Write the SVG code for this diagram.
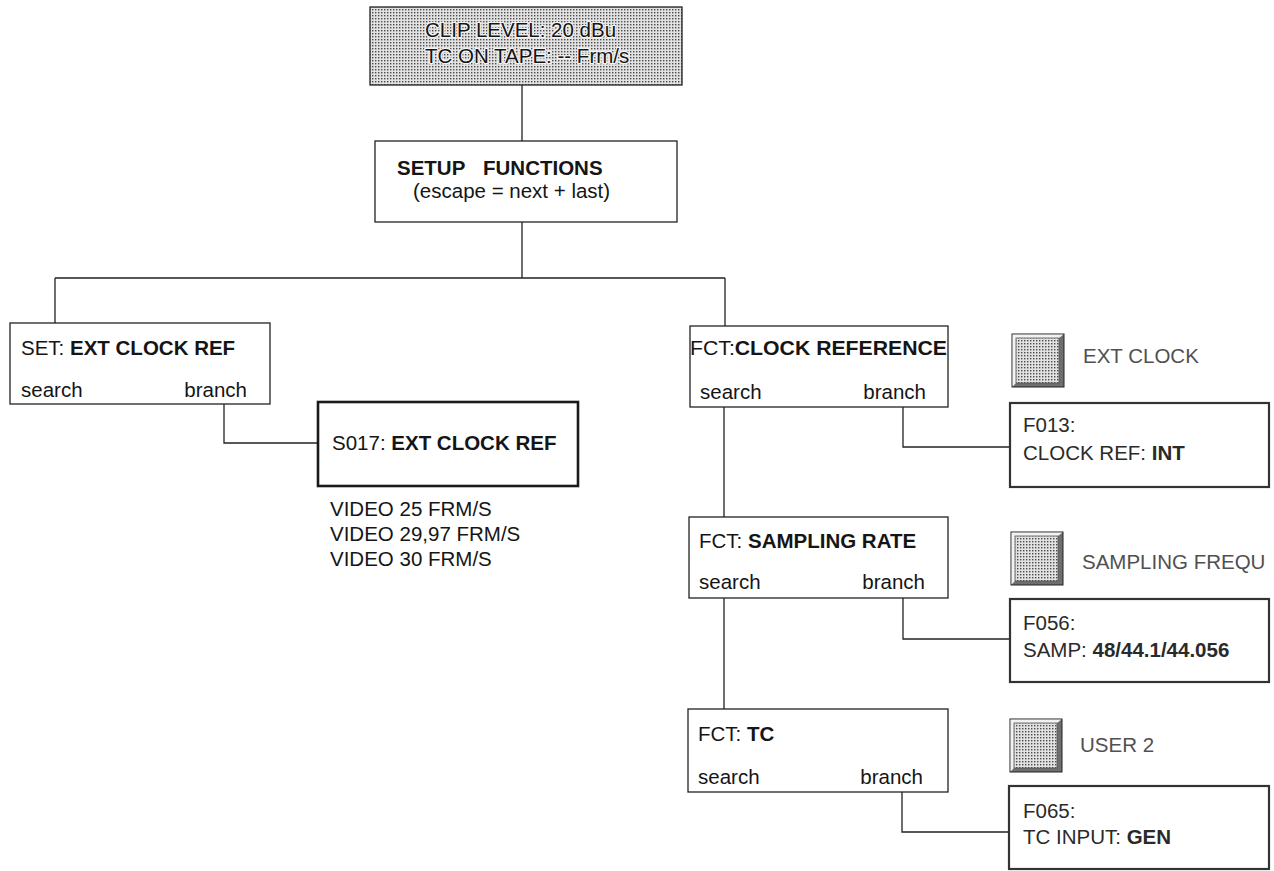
<svg xmlns="http://www.w3.org/2000/svg" width="1274" height="871" viewBox="0 0 1274 871">
<style>
text{font-family:"Liberation Sans",Arial,Helvetica,sans-serif;font-size:20.5px;fill:#151515}
.b{font-weight:bold}
.g{fill:#505050}
.f{fill:#2a2a2a}
.box{fill:#fff;stroke:#222;stroke-width:1.3}
.fbox{fill:#fff;stroke:#333;stroke-width:2.2}
.sbox{fill:#fff;stroke:#1a1a1a;stroke-width:2.6}
.con{fill:none;stroke:#222;stroke-width:1.3}
.halo{stroke:#f4f4f4;stroke-width:2.5;paint-order:stroke;stroke-linejoin:round}
</style>
<defs>
<pattern id="dots" width="3" height="3" patternUnits="userSpaceOnUse">
<rect width="3" height="3" fill="#e2e2e2"/>
<rect width="1.4" height="1.4" fill="#4a4a4a"/>
</pattern>
<g id="btn">
<rect x="0" y="0" width="52" height="53" fill="#6e6e6e" stroke="#222" stroke-width="1"/>
<polygon points="0.5,0.5 51.5,0.5 47,4 4,4 4,49 0.5,52.5" fill="#f2f2f2"/>
<rect x="4" y="4" width="43" height="45" fill="url(#dots)" stroke="#555" stroke-width="0.8"/>
</g>
</defs>
<rect width="1274" height="871" fill="#fff"/>

<g id="connectors">
<path class="con" d="M522,85 V141"/>
<path class="con" d="M522,222 V278 M55,278 H725 M55,278 V323 M725,278 V326"/>
<path class="con" d="M224,404 V443 H318"/>
<path class="con" d="M724,407 V517 M724,598 V709"/>
<path class="con" d="M903,407 V447 H1010"/>
<path class="con" d="M903,598 V639 H1010"/>
<path class="con" d="M902,792 V832 H1010"/>
</g>

<g id="status">
<rect x="370" y="7" width="312" height="78" fill="url(#dots)" stroke="#222" stroke-width="1.3"/>
<text x="425" y="37" class="halo">CLIP LEVEL: 20 dBu</text>
<text x="425" y="63" class="halo">TC ON TAPE: -- Frm/s</text>
</g>

<g id="setup">
<rect class="box" x="375" y="141" width="302" height="81"/>
<text x="397" y="175" class="b">SETUP</text>
<text x="483" y="175" class="b">FUNCTIONS</text>
<text x="413" y="198">(escape = next + last)</text>
</g>

<g id="set-ext">
<rect class="box" x="10" y="323" width="260" height="81"/>
<text x="21" y="355">SET: <tspan class="b">EXT CLOCK REF</tspan></text>
<text x="21" y="397">search</text>
<text x="247" y="397" text-anchor="end">branch</text>
</g>

<g id="s017">
<rect class="sbox" x="318" y="402" width="260" height="84"/>
<text x="332" y="450">S017: <tspan class="b">EXT CLOCK REF</tspan></text>
</g>

<g id="video-options">
<text x="330" y="516">VIDEO 25 FRM/S</text>
<text x="330" y="541">VIDEO 29,97 FRM/S</text>
<text x="330" y="566">VIDEO 30 FRM/S</text>
</g>

<g id="fct-clock">
<rect class="box" x="690" y="326" width="258" height="81"/>
<text x="690" y="355" textLength="257" lengthAdjust="spacingAndGlyphs">FCT:<tspan class="b">CLOCK REFERENCE</tspan></text>
<text x="700" y="399">search</text>
<text x="926" y="399" text-anchor="end">branch</text>
</g>

<g id="btn-ext">
<use href="#btn" x="1012" y="334"/>
<text x="1083" y="363" class="g">EXT CLOCK</text>
</g>

<g id="f013">
<rect class="fbox" x="1010" y="403" width="259" height="84"/>
<text x="1023" y="432" class="f">F013:</text>
<text x="1023" y="460" class="f">CLOCK REF: <tspan class="b">INT</tspan></text>
</g>

<g id="fct-sampling">
<rect class="box" x="689" y="517" width="259" height="81"/>
<text x="699" y="548">FCT: <tspan class="b">SAMPLING RATE</tspan></text>
<text x="699" y="589">search</text>
<text x="925" y="589" text-anchor="end">branch</text>
</g>

<g id="btn-sampling">
<use href="#btn" x="1011" y="532"/>
<text x="1082" y="569" class="g">SAMPLING FREQU</text>
</g>

<g id="f056">
<rect class="fbox" x="1010" y="599" width="259" height="83"/>
<text x="1023" y="630" class="f">F056:</text>
<text x="1023" y="657" class="f">SAMP: <tspan class="b">48/44.1/44.056</tspan></text>
</g>

<g id="fct-tc">
<rect class="box" x="688" y="709" width="260" height="83"/>
<text x="698" y="741">FCT: <tspan class="b">TC</tspan></text>
<text x="698" y="784">search</text>
<text x="923" y="784" text-anchor="end">branch</text>
</g>

<g id="btn-user">
<use href="#btn" x="1010" y="719"/>
<text x="1080" y="752" class="g">USER 2</text>
</g>

<g id="f065">
<rect class="fbox" x="1009" y="786" width="260" height="83"/>
<text x="1023" y="818" class="f">F065:</text>
<text x="1023" y="844" class="f">TC INPUT: <tspan class="b">GEN</tspan></text>
</g>
</svg>
